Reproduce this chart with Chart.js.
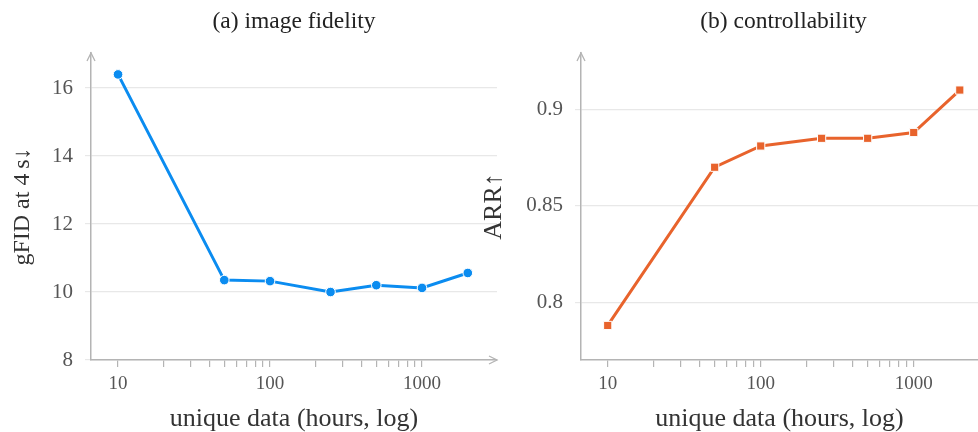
<!DOCTYPE html>
<html lang="en">
<head>
<meta charset="UTF-8">
<title>data scaling</title>
<script src="https://cdn.jsdelivr.net/npm/chart.js@4.4.0/dist/chart.umd.min.js"></script>
<style>
  body{ margin:0; background:#fff; width:978px; height:432px; position:relative; overflow:hidden; }
  .box{ position:absolute; top:0; height:432px; }
  #leftBox{ left:0; width:515px; }
  #rightBox{ left:470px; width:516px; }
</style>
</head>
<body>
<div class="box" id="leftBox"><canvas id="fidCanvas"></canvas></div>
<div class="box" id="rightBox"><canvas id="arrCanvas"></canvas></div>
<script>
// data
const hours = [10, 50, 100, 250, 500, 1000, 2000];
const gfid = [16.4, 10.35, 10.32, 10.0, 10.2, 10.12, 10.56];
const arr = [0.788, 0.870, 0.881, 0.885, 0.885, 0.888, 0.910];
const fidTicks = [8, 10, 12, 14, 16];
const arrTicks = [0.8, 0.85, 0.9];
const logTicks = [10,20,30,40,50,60,70,80,90,100,200,300,400,500,600,700,800,900,1000];
const logLabels = [10, 100, 1000];

const serif = "'Liberation Serif', 'DejaVu Serif', serif";
const axisCol = '#b4b4b4';
const gridCol = '#e8e8e8';

// titles over the plot area + arrow heads on the axes
const decor = {
  id: 'decor',
  afterDraw(chart, args, opts) {
    const ctx = chart.ctx, a = chart.chartArea;
    ctx.save();
    ctx.fillStyle = '#222';
    ctx.font = '23.5px ' + serif;
    ctx.textAlign = 'center';
    ctx.textBaseline = 'middle';
    ctx.fillText(opts.text, (a.left + a.right) / 2 + opts.shift, 22);
    ctx.strokeStyle = axisCol;
    ctx.lineWidth = 1.3;
    ctx.beginPath();
    ctx.moveTo(a.left - 4, a.top + 8);
    ctx.lineTo(a.left, a.top);
    ctx.lineTo(a.left + 4, a.top + 8);
    if (opts.xArrow) {
      ctx.moveTo(a.right - 8, a.bottom - 4);
      ctx.lineTo(a.right, a.bottom);
      ctx.lineTo(a.right - 8, a.bottom + 4);
    }
    ctx.stroke();
    ctx.restore();
  }
};

function makeChart(id, values, color, style, radius, yMin, yMax, yTicks, xMin, xMax, yName, yNameSize, title, padRight, xArrow, shift, yWidth) {
  return new Chart(document.getElementById(id), {
    type: 'line',
    data: {
      datasets: [{
        data: hours.map((h, i) => ({x: h, y: values[i]})),
        borderColor: color,
        backgroundColor: color,
        borderWidth: 3,
        pointStyle: style,
        pointRadius: radius,
        pointBorderColor: '#fff',
        pointBorderWidth: 1,
        tension: 0
      }]
    },
    options: {
      responsive: true,
      maintainAspectRatio: false,
      animation: false,
      layout: { padding: { top: 53, right: padRight, left: 0, bottom: 0 } },
      plugins: {
        legend: { display: false },
        tooltip: { enabled: false },
        decor: { text: title, xArrow: xArrow, shift: shift }
      },
      scales: {
        x: {
          type: 'logarithmic',
          min: xMin, max: xMax,
          afterFit: s => { s.height = 72; },
          afterBuildTicks: s => { s.ticks = logTicks.map(v => ({value: v})); },
          ticks: {
            autoSkip: false, maxRotation: 0, padding: 6,
            color: '#555', font: { family: serif, size: 19 },
            callback: v => logLabels.includes(v) ? String(v) : ''
          },
          grid: { drawOnChartArea: false, color: axisCol, tickLength: 7, lineWidth: 1.2 },
          border: { color: axisCol, width: 1.5 },
          title: { display: true, text: 'unique data (hours, log)', color: '#333',
                   font: { family: serif, size: 26, lineHeight: 1 }, padding: { top: 0, bottom: 0 } }
        },
        y: {
          min: yMin, max: yMax,
          afterFit: s => { s.width = yWidth; },
          afterBuildTicks: s => { s.ticks = yTicks.map(v => ({value: v})); },
          ticks: { padding: 12, color: '#555', font: { family: serif, size: 21 },
                   callback: v => String(v) },
          grid: { color: gridCol, tickLength: 6, lineWidth: 1.2 },
          border: { color: axisCol, width: 1.5 },
          title: { display: true, text: yName, color: '#333',
                   font: { family: serif, size: yNameSize, lineHeight: 1 }, padding: { top: 11, bottom: 0 } }
        }
      }
    },
    plugins: [decor]
  });
}

makeChart('fidCanvas', gfid, '#0b8cf0', 'circle', 4.8, 8, 17.03, fidTicks, 6.64, 3113,
          'gFID at 4\u2009s\u2193', 24, '(a) image fidelity', 18, true, 0, 91);
makeChart('arrCanvas', arr, '#e8632c', 'rect', 5.8, 0.7701, 0.9292, arrTicks, 6.69, 2630,
          'ARR\u2191', 26, '(b) controllability', 8, false, 4, 111);
</script>
</body>
</html>
